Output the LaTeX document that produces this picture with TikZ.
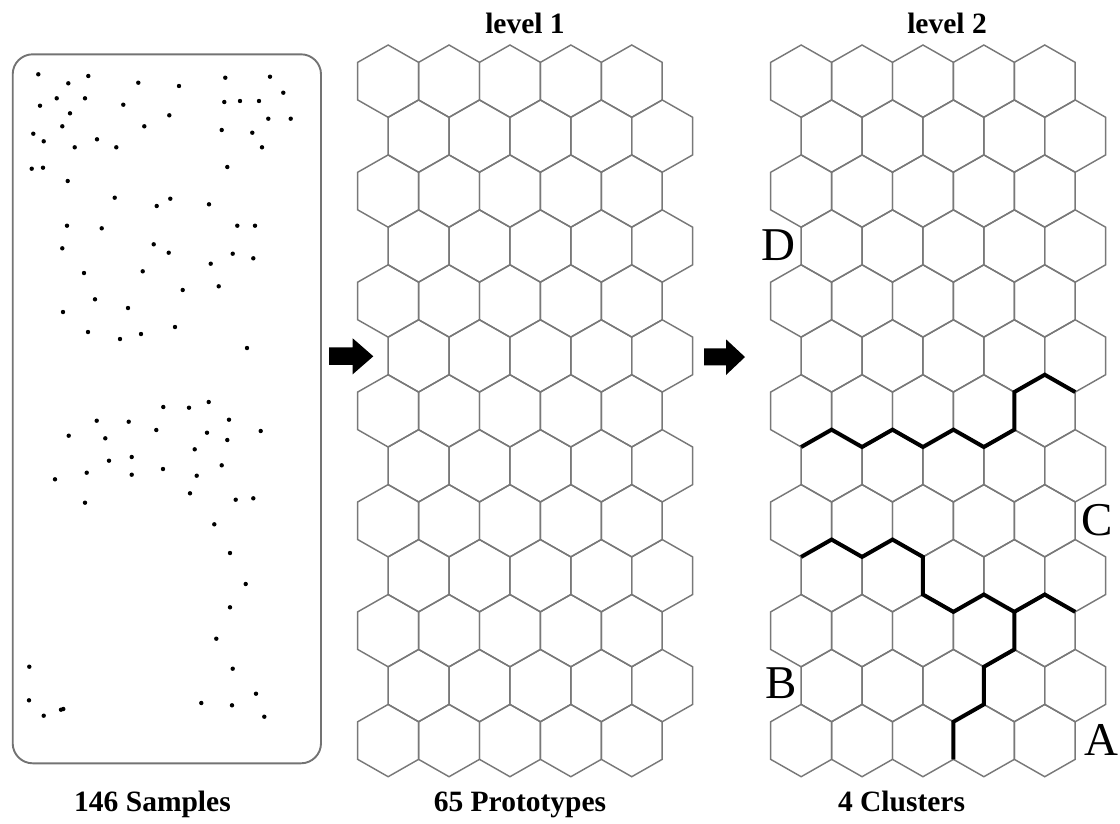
\documentclass[tikz,border=0pt]{standalone}
\usepackage{fontspec}
\setmainfont{Liberation Serif}
\definecolor{hexgray}{gray}{0.47}
\definecolor{boxgray}{gray}{0.45}

% one 5 x 13 hexagon lattice; #1 = x of the first centre
\newcommand{\drawhexgrid}[1]{%
  \foreach \r in {0,...,12}{%
    \foreach \c in {0,...,4}{%
      \pgfmathsetmacro\cx{#1+60.9*\c+30.45*mod(\r,2)}%
      \pgfmathsetmacro\cy{81.15+54.95*\r}%
      \draw[hexline] (\cx,\cy-36.15) -- ++(30.45,17.35) -- ++(0,37.6)
        -- ++(-30.45,17.35) -- ++(-30.45,-17.35) -- ++(0,-37.6) -- cycle;
    }%
  }%
}

\begin{document}
\begin{tikzpicture}[x=1pt,y=-1pt,
  hexline/.style={draw=hexgray,line width=1.45pt,line join=miter},
  cutline/.style={draw=black,line width=4pt,line join=miter,line cap=butt},
  samplebox/.style={draw=boxgray,line width=1.9pt,rounded corners=20pt},
  sample/.style={fill=black},
  caption/.style={font=\fontsize{29.5}{30}\selectfont\bfseries,anchor=base,inner sep=0pt},
  clusterlabel/.style={font=\fontsize{47}{48}\selectfont,inner sep=0pt},
  blockarrow/.style={fill=black}]
\useasboundingbox (0,0) rectangle (1120,823);

% ---- samples ----
\draw[samplebox] (12.7,54.3) rectangle (321,763.3);
\foreach \x/\y in {
  38.3/74.3, 68.3/83.3, 88.3/76, 138.3/82.7, 179/86, 225.3/77.7, 270/76.7,
  283.3/92.7, 40/105.7, 56.7/98.3, 85/98.3, 123.3/104.7, 224.3/102, 240/101,
  259/101, 70/113.3, 169.3/115.3, 268.3/118.7, 290.7/118.7, 62.3/126.3,
  144.3/126.3, 221.7/130, 252.3/132.7, 33.3/133.7, 43.7/141.3, 97/139.3,
  74.7/147.3, 116.3/147.3, 262/147.3, 31.7/168.7, 43/167.7, 227.3/167,
  67.7/181, 114.7/197.7, 156.7/206, 170.3/198.7, 209/204.3, 67/225.7,
  101.7/228.3, 237.3/225.7, 255/225.7, 62.3/248.3, 153.7/244.3, 168.7/252.7,
  232.7/253.7, 253.3/258.3, 210.7/263.7, 84/273, 142.7/271.3, 182.7/290,
  218.7/286.3, 95/299.3,
  63/312, 128/308, 175/327, 88/332, 120/339, 141/334, 247/348,
  163.3/407, 189/407.7, 208.7/402, 96.7/420.7, 128.7/421.7, 229/419.7,
  68.7/435.7, 105.3/438.3, 156.3/430, 207/432.7, 227.3/440, 260.7/431,
  194.7/449.3, 109/460.7, 131.7/457, 221.7/465.3, 86.7/472.7, 131.7/474.7,
  163/469, 196.7/475.7, 55/479.3, 190/493.3, 235.7/499.7, 253.3/498.3,
  85/502.7, 214.3/524.3, 230/553, 245.7/584, 230/607.3, 216.3/638.7,
  29.3/666.7, 232.7/668.7, 256/693.7, 29/700.3, 201.3/703, 232/705.3,
  61/709.7, 63.3/709, 43.7/715.7, 264.3/716.7}
  \fill[sample] (\x,\y) circle (2.2);

% ---- arrows between the panels ----
\fill[blockarrow] (329,347.3) -- (352.7,347.3) -- (352.7,338.3) -- (373.3,356.3)
  -- (352.7,374.3) -- (352.7,364.8) -- (329,364.8) -- cycle;
\fill[blockarrow] (704,348.3) -- (726,348.3) -- (726,339.3) -- (745,357)
  -- (726,375) -- (726,365.3) -- (704,365.3) -- cycle;

% ---- level 1 and level 2 maps ----
\drawhexgrid{388.15}
\drawhexgrid{801.15}

% cluster borders on the level 2 map
\coordinate (u0) at (801.15,447);
\draw[cutline] (u0) -- (831.6,429.65) -- (862.05,447) -- (892.5,429.65)
  -- (922.95,447) -- (953.4,429.65) -- (983.85,447) -- (1014.3,429.65)
  -- (1014.3,392.05) -- (1044.75,374.7) -- (1075.2,392.05);
\coordinate (l0) at (801.15,556.9);
\coordinate (fork) at (1014.3,611.85);
\draw[cutline] (l0) -- (831.6,539.55) -- (862.05,556.9) -- (892.5,539.55)
  -- (922.95,556.9) -- (922.95,594.5) -- (953.4,611.85) -- (983.85,594.5)
  -- (fork) -- (1044.75,594.5) -- (1075.2,611.85);
\draw[cutline] (fork) -- (1014.3,649.45) -- (983.85,666.8) -- (983.85,704.4)
  -- (953.4,721.75) -- (953.4,759.35);

% ---- labels ----
\node[caption] (t1) at (525,33) {level 1};
\node[caption] (t2) at (947,33) {level 2};
\node[caption] (c0) at (152.5,811) {146 Samples};
\node[caption] (c1) at (520,811) {65 Prototypes};
\node[caption] (c2) at (901.5,811) {4 Clusters};

\node[clusterlabel] (D) at (778,245) {D};
\node[clusterlabel] (C) at (1097.5,520) {C};
\node[clusterlabel] (B) at (781,683) {B};
\node[clusterlabel] (A) at (1101,740) {A};
\end{tikzpicture}
\end{document}
